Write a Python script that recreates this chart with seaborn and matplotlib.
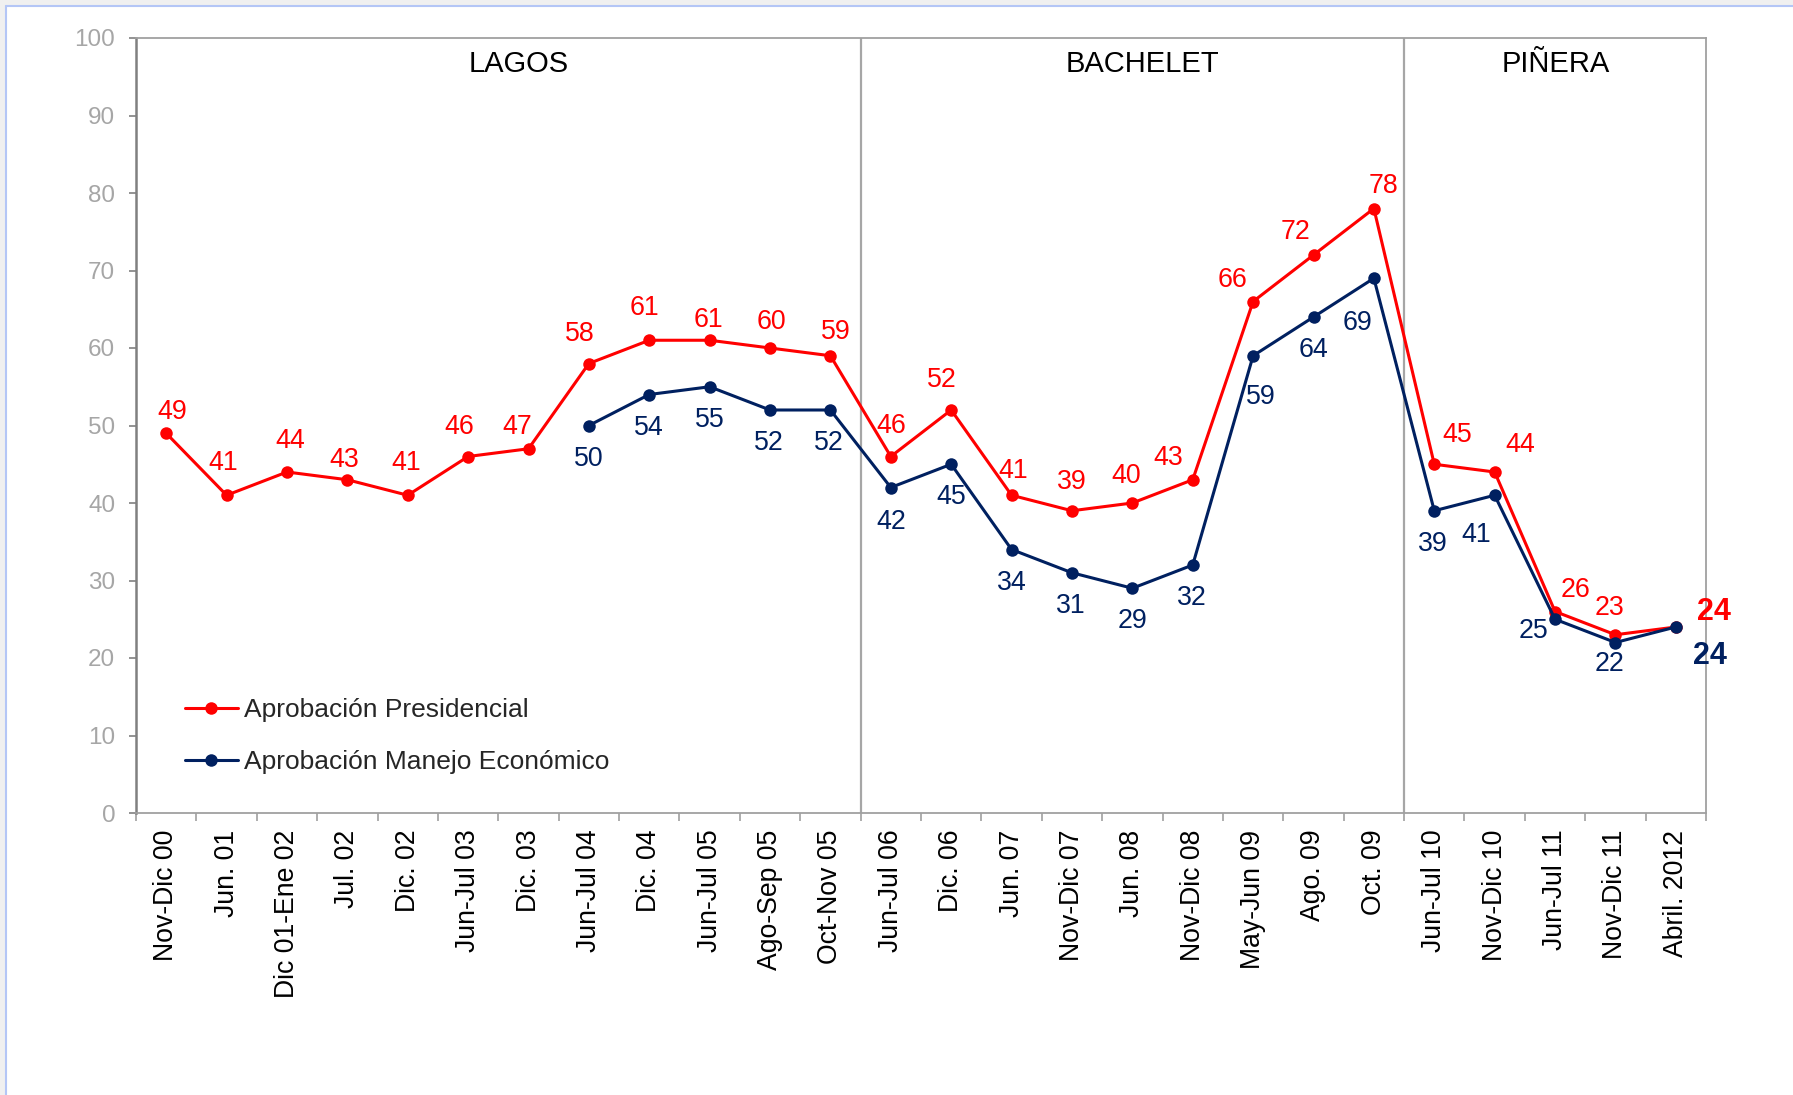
import numpy as np
import pandas as pd
import matplotlib
matplotlib.use("Agg")
import matplotlib.pyplot as plt
from matplotlib.patches import Rectangle
from matplotlib.lines import Line2D
import seaborn as sns

# ---------------- data ----------------
categories = ["Nov-Dic 00", "Jun. 01", "Dic 01-Ene 02", "Jul. 02", "Dic. 02", "Jun-Jul 03",
              "Dic. 03", "Jun-Jul 04", "Dic. 04", "Jun-Jul 05", "Ago-Sep 05", "Oct-Nov 05",
              "Jun-Jul 06", "Dic. 06", "Jun. 07", "Nov-Dic 07", "Jun. 08", "Nov-Dic 08",
              "May-Jun 09", "Ago. 09", "Oct. 09", "Jun-Jul 10", "Nov-Dic 10", "Jun-Jul 11",
              "Nov-Dic 11", "Abril. 2012"]
aprob_presidencial = [49, 41, 44, 43, 41, 46, 47, 58, 61, 61, 60, 59, 46, 52, 41, 39, 40, 43,
                      66, 72, 78, 45, 44, 26, 23, 24]
econ_start = 7  # first category with economic data (Jun-Jul 04)
aprob_economico = [50, 54, 55, 52, 52, 42, 45, 34, 31, 29, 32, 59, 64, 69, 39, 41, 25, 22, 24]
series_names = ["Aprobación Presidencial", "Aprobación Manejo Económico"]
periods = ["LAGOS", "BACHELET", "PIÑERA"]
period_breaks = [11.5, 20.5]
yticks = list(range(0, 101, 10))

# ---------------- label offsets (reference px, dx right / dy up) ----------------
red_off = [(5, 19), (-3, 28), (3, 27), (-3, 17), (-1, 28), (-8, 26), (-10, 19), (-8, 26),
           (-4, 28), (-1, 18), (1, 23), (5, 21), (0, 27), (-8, 26), (1, 21), (0, 25),
           (-5, 24), (-21, 19), (-18, 19), (-16, 20), (8, 20), (20, 26), (22, 24),
           (18, 19), (-5, 23), (33, 13)]
blue_off = [(0, -29), (0, -29), (0, -29), (-1, -29), (-1, -29), (0, -30), (0, -29), (0, -29),
            (-1, -29), (0, -29), (-1, -29), (7, -36), (0, -29), (-14, -39), (-1, -29),
            (-16, -35), (-19, -10), (-5, -19), (30, -25)]
PX2PT = 1.1435 / (100 / 72)

RED = "#ff0000"
NAVY = "#002060"

df = pd.concat([
    pd.DataFrame({"x": np.arange(len(aprob_presidencial)), "valor": aprob_presidencial,
                  "serie": series_names[0]}),
    pd.DataFrame({"x": np.arange(econ_start, econ_start + len(aprob_economico)),
                  "valor": aprob_economico, "serie": series_names[1]}),
], ignore_index=True)

sns.set_theme(style="white")
plt.rcParams["font.family"] = ["Liberation Sans", "DejaVu Sans"]

fig = plt.figure(figsize=(17.93, 10.95), dpi=100)
ax = fig.add_axes([136 / 1793, 1 - 813 / 1095, (1706 - 136) / 1793, (813 - 38) / 1095])

sns.lineplot(data=df, x="x", y="valor", hue="serie", hue_order=series_names,
             palette=[RED, NAVY], marker="o", markersize=9, markeredgewidth=0,
             linewidth=2.2, sort=False, ax=ax, legend=True)

ax.set_xlim(-0.5, len(categories) - 0.5)
ax.set_ylim(0, 100)
ax.set_yticks(yticks)
ax.set_yticklabels([str(v) for v in yticks], fontsize=17.5, color="#a6a6a6")
ax.set_xticks(np.arange(len(categories)))
ax.set_xticklabels(categories, rotation=90, fontsize=19.2, color="black")
ax.set_xticks(np.arange(-0.5, len(categories)), minor=True)
ax.tick_params(axis="x", which="major", length=0, pad=12)
ax.tick_params(axis="x", which="minor", length=6, width=1.2, color="#a0a0a0", direction="out",
               bottom=True)
ax.tick_params(axis="y", which="major", length=5, width=1.2, color="#808080", direction="out",
               left=True, pad=10)
ax.set_xlabel("")
ax.set_ylabel("")

for side, sp in ax.spines.items():
    sp.set_visible(True)
    sp.set_color("#a0a0a0")
    sp.set_linewidth(1.3)
ax.spines["left"].set_color("#808080")
ax.spines["left"].set_linewidth(1.8)

for b in period_breaks:
    ax.axvline(b, color="#a6a6a6", lw=1.6, zorder=1)

# period titles
bounds = [-0.5] + period_breaks + [len(categories) - 0.5]
title_shift = [0.33, 0.17, 0.02]
for i, name in enumerate(periods):
    xc = (bounds[i] + bounds[i + 1]) / 2 + title_shift[i]
    ax.text(xc, 96.6, name, ha="center", va="center", fontsize=21, color="black")

# data labels
for i, v in enumerate(aprob_presidencial):
    dx, dy = red_off[i]
    last = i == len(aprob_presidencial) - 1
    ax.annotate(str(v), (i, v), xytext=(dx * PX2PT, dy * PX2PT), textcoords="offset points",
                ha="center", va="center", color=RED,
                fontsize=22 if last else 19.3, fontweight="bold" if last else "normal")
for j, v in enumerate(aprob_economico):
    i = econ_start + j
    dx, dy = blue_off[j]
    last = j == len(aprob_economico) - 1
    ax.annotate(str(v), (i, v), xytext=(dx * PX2PT, dy * PX2PT), textcoords="offset points",
                ha="center", va="center", color=NAVY,
                fontsize=22 if last else 19.3, fontweight="bold" if last else "normal")

handles, labels = ax.get_legend_handles_labels()
ax.legend(handles, labels, loc="lower left", bbox_to_anchor=(0.016, 0.02), frameon=False,
          fontsize=19, handlelength=2.0, handletextpad=0.25, labelspacing=1.05)

# outer frame decoration (light gray strip with blue edge, top and left)
H, W = 1095, 1793
fig.patches.append(Rectangle((0, 1 - 5 / H), 1, 5 / H, transform=fig.transFigure,
                             facecolor="#f0f0f0", edgecolor="none", zorder=0))
fig.patches.append(Rectangle((0, 0), 5 / W, 1, transform=fig.transFigure,
                             facecolor="#f0f0f0", edgecolor="none", zorder=0))
fig.lines.append(Line2D([5.5 / W, 1], [1 - 6 / H, 1 - 6 / H], transform=fig.transFigure,
                        color="#b4c6f6", lw=1.5))
fig.lines.append(Line2D([5.5 / W, 5.5 / W], [0, 1 - 6 / H], transform=fig.transFigure,
                        color="#b4c6f6", lw=1.5))

fig.savefig("out.png", dpi=100)
